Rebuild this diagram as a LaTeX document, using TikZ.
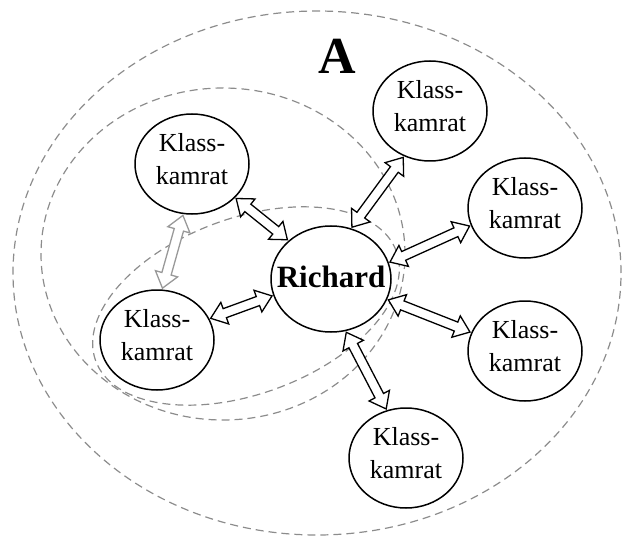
\documentclass[tikz,border=0pt]{standalone}
\usepackage{fontspec}
\setmainfont{Liberation Serif}
\usetikzlibrary{shapes.geometric, calc}

\tikzstyle{mate} = [
    ellipse,
    draw=black,
    line width=1.5pt,
    fill=white,
    minimum width=114pt,
    minimum height=100pt,
    inner sep=0pt,
    outer sep=2pt,
    text depth=11pt,
    align=center,
    font=\fontsize{26}{33}\selectfont
]
\tikzstyle{me} = [
    mate,
    minimum width=120pt,
    minimum height=106pt,
    text depth=5pt,
    font=\fontsize{31}{36}\selectfont\bfseries
]
\tikzstyle{ring} = [draw=black!45, line width=1.2pt, dash pattern=on 8pt off 5pt]
\tikzstyle{fat} = [draw=black, line width=1.3pt, fill=white, line join=miter]
\tikzstyle{faded} = [draw=black!40]

% hollow arrow with a head at both ends
\newcommand{\dblarrow}[3][]{%
  \draw[fat,#1] let \p1=(#2), \p2=(#3),
      \n1={atan2(\y2-\y1,\x2-\x1)}, \n2={veclen(\x2-\x1,\y2-\y1)}
    in [shift={(\p1)}, rotate=\n1]
    (0pt,0pt) -- (15pt,11.5pt) -- (15pt,4.8pt) -- (\n2-15pt,4.8pt)
    -- (\n2-15pt,11.5pt) -- (\n2,0pt) -- (\n2-15pt,-11.5pt)
    -- (\n2-15pt,-4.8pt) -- (15pt,-4.8pt) -- (15pt,-11.5pt) -- cycle;}

\begin{document}
\begin{tikzpicture}[x=1pt, y=-1pt]
\useasboundingbox (0,0) rectangle (623,537);

% dashed rings
\draw[ring] (317,273) ellipse [x radius=304pt, y radius=262pt];
\draw[ring] (223,254) ellipse [x radius=182pt, y radius=166pt];
\draw[ring, rotate around={20:(246,306)}] (246,306) ellipse [x radius=160pt, y radius=88pt];

\node (label) at (337,56) {\fontsize{52}{52}\selectfont\bfseries A};

\node (richard) [me] at (331,279) {\makebox[0pt]{Richard}};

\node (tl) [mate] at (192,164) {Klass-\\kamrat};
\node (tr) [mate] at (430,111) {Klass-\\kamrat};
\node (ru) [mate] at (525,208) {Klass-\\kamrat};
\node (rl) [mate] at (525,351) {Klass-\\kamrat};
\node (bot) [mate] at (406,458) {Klass-\\kamrat};
\node (ll) [mate] at (157,340) {Klass-\\kamrat};

\dblarrow{tl.-38}{richard.138}
\dblarrow{richard.68}{tr.240}
\dblarrow{richard.16}{ru.198}
\dblarrow{richard.-20}{rl.161}
\dblarrow{richard.-74}{bot.112}
\dblarrow{richard.196}{ll.22}
\dblarrow[faded]{tl.260}{ll.84}

\end{tikzpicture}
\end{document}
